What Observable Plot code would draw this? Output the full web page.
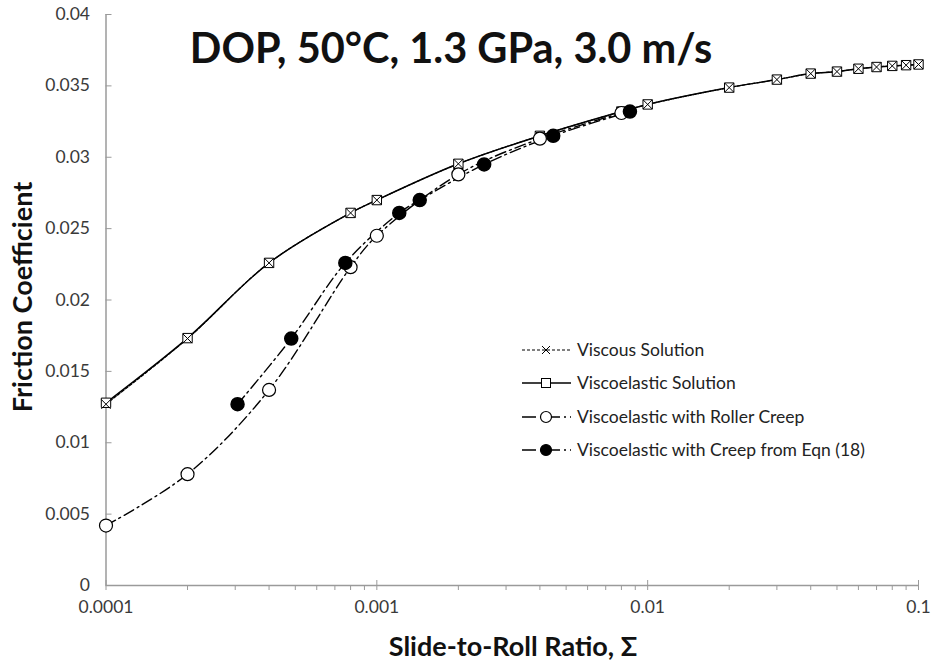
<!DOCTYPE html>
<html><head><meta charset="utf-8">
<script src="https://cdn.jsdelivr.net/npm/d3@7"></script>
<script src="https://cdn.jsdelivr.net/npm/@observablehq/plot@0.6"></script>
<style>
body{margin:0;background:#fff;}
#wrap{position:relative;width:932px;height:666px;font-family:Lato,sans-serif;}
#wrap svg.overlay{position:absolute;left:0;top:0;pointer-events:none;}
</style>
</head><body><div id="wrap"></div>
<script>
// ---- data ----
const xSolution = [0.0001,0.0002,0.0004,0.0008,0.001,0.002,0.004,0.008,0.01,0.02,0.03,0.04,0.05,0.06,0.07,0.08,0.09,0.1];
const yViscous = [0.0127,0.0173,0.0226,0.0261,0.0270,0.02954,0.0315,0.0332,0.0337,0.03488,0.03544,0.03586,0.0360,0.03620,0.03632,0.0364,0.03645,0.0365];
const yViscoelastic = [0.0128,0.01733,0.0226,0.0261,0.0270,0.02954,0.0315,0.0332,0.0337,0.03488,0.03544,0.03586,0.0360,0.03620,0.03632,0.0364,0.03645,0.0365];
const xRoller = [0.0001,0.0002,0.0004,0.0008,0.001,0.002,0.004,0.008];
const yRoller = [0.0042,0.0078,0.0137,0.0223,0.0245,0.0288,0.0313,0.0331];
const xEqn18 = [0.000306,0.000483,0.000765,0.00121,0.00144,0.00249,0.00448,0.0086];
const yEqn18 = [0.0127,0.0173,0.0226,0.0261,0.0270,0.0295,0.0315,0.0332];
const yTicks = [0,0.005,0.01,0.015,0.02,0.025,0.03,0.035,0.04];
const yTickLabels = ["0","0.005","0.01","0.015","0.02","0.025","0.03","0.035","0.04"];
const xMajor = [0.0001,0.001,0.01,0.1];
const xTickLabels = ["0.0001","0.001","0.01","0.1"];
const xMinor = [];
for (const d of [0.0001,0.001,0.01]) for (let k = 2; k <= 9; k++) xMinor.push(+(k*d).toPrecision(3));
const seriesNames = ["Viscous Solution","Viscoelastic Solution","Viscoelastic with Roller Creep","Viscoelastic with Creep from Eqn (18)"];
const titleText = "DOP, 50°C, 1.3 GPa, 3.0 m/s";
const xLabel = "Slide-to-Roll Ratio, Σ";
const yLabel = "Friction Coefficient";

// ---- tables ----
const viscous = xSolution.map((x,i)=>({x, y:yViscous[i]}));
const visco = xSolution.map((x,i)=>({x, y:yViscoelastic[i]}));
const roller = xRoller.map((x,i)=>({x, y:yRoller[i]}));
const eqn18 = xEqn18.map((x,i)=>({x, y:yEqn18[i]}));

const axisGray = "#9a9a9a";
const chart = Plot.plot({
  width: 932, height: 666,
  marginLeft: 105.5, marginRight: 14, marginTop: 14, marginBottom: 81,
  x: {type: "log", domain: [0.0001, 0.1], label: null},
  y: {domain: [0, 0.04], label: null},
  style: {fontFamily: "Lato, sans-serif", fontSize: "17.5px", color: "#3a3a3a", background: "white"},
  marks: [
    Plot.ruleY([0], {stroke: axisGray, strokeWidth: 1.5}),
    Plot.ruleX([0.0001], {stroke: axisGray, strokeWidth: 1.5}),
    Plot.axisX(xMinor, {tickSize: 5, tickFormat: () => "", stroke: axisGray, label: null}),
    Plot.axisX(xMajor, {tickSize: 5, tickPadding: 10, tickFormat: (d, i) => xTickLabels[xMajor.indexOf(d)], stroke: axisGray, fill: "#3a3a3a", label: null}),
    Plot.axisX(xMajor, {tickSize: -5, tickFormat: () => "", stroke: axisGray, label: null}),
    Plot.axisY(yTicks, {tickSize: -6, tickFormat: () => "", stroke: axisGray, label: null}),
    Plot.axisY(yTicks, {tickSize: 0, tickPadding: 16, tickFormat: d => yTickLabels[yTicks.indexOf(d)], fill: "#3a3a3a", label: null}),
    Plot.line(visco, {x: "x", y: "y", curve: "catmull-rom", stroke: "black", strokeWidth: 1.5}),
    Plot.line(viscous, {x: "x", y: "y", curve: "catmull-rom", stroke: "black", strokeWidth: 1.2, strokeDasharray: "3,2"}),
    Plot.line(roller, {x: "x", y: "y", curve: "catmull-rom", stroke: "black", strokeWidth: 1.4, strokeDasharray: "11,4,2,4"}),
    Plot.line(eqn18, {x: "x", y: "y", curve: "catmull-rom", stroke: "black", strokeWidth: 1.4, strokeDasharray: "11,4,2,4"}),
    Plot.dot(visco, {x: "x", y: "y", symbol: "square", r: 5.3, fill: "white", stroke: "black", strokeWidth: 1}),
    Plot.dot(viscous, {x: "x", y: "y", symbol: "times", r: 4.3, stroke: "black", strokeWidth: 1}),
    Plot.dot(roller, {x: "x", y: "y", r: 6.5, fill: "white", stroke: "black", strokeWidth: 1.2}),
    Plot.dot(eqn18, {x: "x", y: "y", r: 6.5, fill: "black", stroke: "black"})
  ]
});
const wrap = document.getElementById("wrap");
wrap.appendChild(chart);

// ---- overlay: title, axis titles, legend ----
const ov = d3.select(wrap).append("svg").attr("class","overlay").attr("width",932).attr("height",666)
  .style("font-family","Lato, sans-serif");
ov.append("text").attr("x",451).attr("y",63).attr("text-anchor","middle")
  .attr("font-size",41.5).attr("font-weight",700).attr("fill","#111").text(titleText);
ov.append("text").attr("x",513).attr("y",656).attr("text-anchor","middle")
  .attr("font-size",27).attr("font-weight",700).attr("fill","#111").text(xLabel);
ov.append("text").attr("transform","translate(32,297) rotate(-90)").attr("text-anchor","middle")
  .attr("font-size",27).attr("font-weight",700).attr("fill","#111").text(yLabel);

const lg = ov.append("g");
const rows = [350, 383, 417, 450];
const lx0 = 522, lx1 = 571, mx = 546, tx = 577;
seriesNames.forEach((name, i) => {
  const y = rows[i];
  if (i === 0) {
    lg.append("line").attr("x1",lx0).attr("x2",lx1).attr("y1",y).attr("y2",y).attr("stroke","black").attr("stroke-width",1.2).attr("stroke-dasharray","3,2");
    lg.append("path").attr("d",`M${mx-4},${y-4}L${mx+4},${y+4}M${mx-4},${y+4}L${mx+4},${y-4}`).attr("stroke","black").attr("stroke-width",1);
  } else if (i === 1) {
    lg.append("line").attr("x1",lx0).attr("x2",lx1).attr("y1",y).attr("y2",y).attr("stroke","black").attr("stroke-width",1.5);
    lg.append("rect").attr("x",mx-4.5).attr("y",y-4.5).attr("width",9).attr("height",9).attr("fill","white").attr("stroke","black");
  } else {
    lg.append("line").attr("x1",lx0).attr("x2",lx1).attr("y1",y).attr("y2",y).attr("stroke","black").attr("stroke-width",1.4).attr("stroke-dasharray","14,4,2,4");
    lg.append("circle").attr("cx",mx).attr("cy",y).attr("r",5.5).attr("fill", i === 2 ? "white" : "black").attr("stroke","black").attr("stroke-width",1.2);
  }
  lg.append("text").attr("x",tx).attr("y",y).attr("dy","0.35em").attr("font-size",17.5).attr("fill","#222").text(name);
});
</script>
</body></html>
